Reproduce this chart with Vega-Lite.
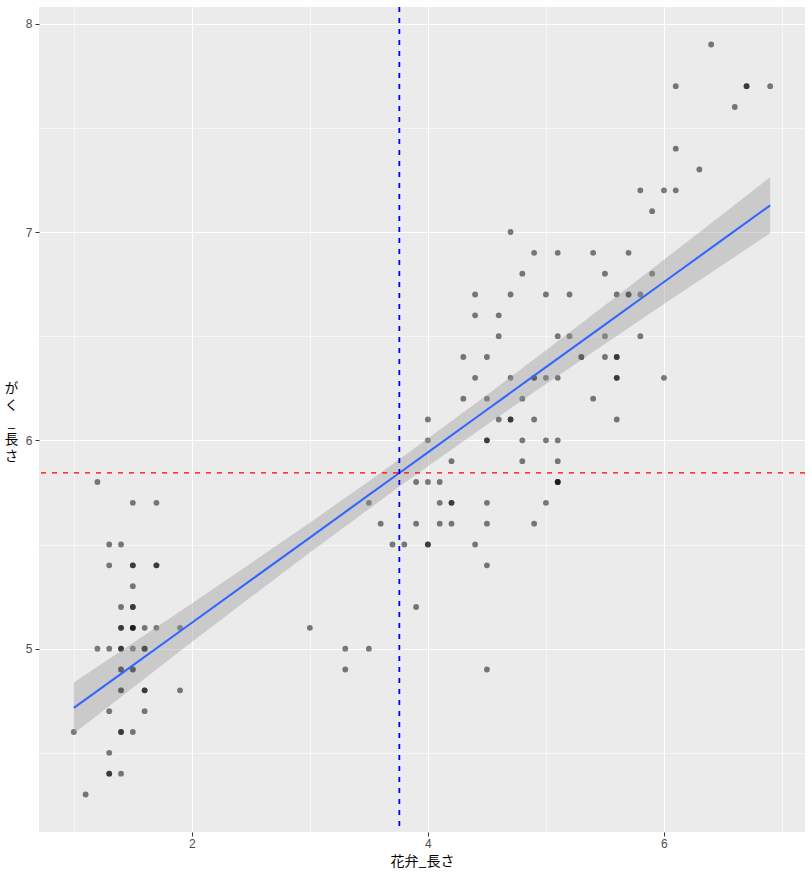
{
  "$schema": "https://vega.github.io/schema/vega-lite/v6.json",
  "width": 766,
  "height": 825,
  "autosize": {"type": "none"},
  "padding": {"left": 39, "top": 7, "right": 7, "bottom": 44},
  "background": "white",
  "config": {
    "view": {"fill": "#EBEBEB", "stroke": null},
    "axis": {
      "domain": false,
      "gridColor": "white",
      "tickColor": "#333333",
      "tickSize": 4,
      "labelColor": "#4D4D4D",
      "labelFont": "Liberation Sans",
      "labelFontSize": 12,
      "titleFont": "Noto Sans CJK JP",
      "titleFontSize": 14,
      "titleFontWeight": "normal",
      "titleColor": "black"
    }
  },
  "datasets": {
    "iris": [
      {"p":1.4,"s":5.1},{"p":1.4,"s":4.9},{"p":1.3,"s":4.7},{"p":1.5,"s":4.6},{"p":1.4,"s":5.0},
      {"p":1.7,"s":5.4},{"p":1.4,"s":4.6},{"p":1.5,"s":5.0},{"p":1.4,"s":4.4},{"p":1.5,"s":4.9},
      {"p":1.5,"s":5.4},{"p":1.6,"s":4.8},{"p":1.4,"s":4.8},{"p":1.1,"s":4.3},{"p":1.2,"s":5.8},
      {"p":1.5,"s":5.7},{"p":1.3,"s":5.4},{"p":1.4,"s":5.1},{"p":1.7,"s":5.7},{"p":1.5,"s":5.1},
      {"p":1.7,"s":5.4},{"p":1.5,"s":5.1},{"p":1.0,"s":4.6},{"p":1.7,"s":5.1},{"p":1.9,"s":4.8},
      {"p":1.6,"s":5.0},{"p":1.6,"s":5.0},{"p":1.5,"s":5.2},{"p":1.4,"s":5.2},{"p":1.6,"s":4.7},
      {"p":1.6,"s":4.8},{"p":1.5,"s":5.4},{"p":1.5,"s":5.2},{"p":1.4,"s":5.5},{"p":1.5,"s":4.9},
      {"p":1.2,"s":5.0},{"p":1.3,"s":5.5},{"p":1.4,"s":4.9},{"p":1.3,"s":4.4},{"p":1.5,"s":5.1},
      {"p":1.3,"s":5.0},{"p":1.3,"s":4.5},{"p":1.3,"s":4.4},{"p":1.6,"s":5.0},{"p":1.9,"s":5.1},
      {"p":1.4,"s":4.8},{"p":1.6,"s":5.1},{"p":1.4,"s":4.6},{"p":1.5,"s":5.3},{"p":1.4,"s":5.0},
      {"p":4.7,"s":7.0},{"p":4.5,"s":6.4},{"p":4.9,"s":6.9},{"p":4.0,"s":5.5},{"p":4.6,"s":6.5},
      {"p":4.5,"s":5.7},{"p":4.7,"s":6.3},{"p":3.3,"s":4.9},{"p":4.6,"s":6.6},{"p":3.9,"s":5.2},
      {"p":3.5,"s":5.0},{"p":4.2,"s":5.9},{"p":4.0,"s":6.0},{"p":4.7,"s":6.1},{"p":3.6,"s":5.6},
      {"p":4.4,"s":6.7},{"p":4.5,"s":5.6},{"p":4.1,"s":5.8},{"p":4.5,"s":6.2},{"p":3.9,"s":5.6},
      {"p":4.8,"s":5.9},{"p":4.0,"s":6.1},{"p":4.9,"s":6.3},{"p":4.7,"s":6.1},{"p":4.3,"s":6.4},
      {"p":4.4,"s":6.6},{"p":4.8,"s":6.8},{"p":5.0,"s":6.7},{"p":4.5,"s":6.0},{"p":3.5,"s":5.7},
      {"p":3.8,"s":5.5},{"p":3.7,"s":5.5},{"p":3.9,"s":5.8},{"p":5.1,"s":6.0},{"p":4.5,"s":5.4},
      {"p":4.5,"s":6.0},{"p":4.7,"s":6.7},{"p":4.4,"s":6.3},{"p":4.1,"s":5.6},{"p":4.0,"s":5.5},
      {"p":4.4,"s":5.5},{"p":4.6,"s":6.1},{"p":4.0,"s":5.8},{"p":3.3,"s":5.0},{"p":4.2,"s":5.6},
      {"p":4.2,"s":5.7},{"p":4.2,"s":5.7},{"p":4.3,"s":6.2},{"p":3.0,"s":5.1},{"p":4.1,"s":5.7},
      {"p":6.0,"s":6.3},{"p":5.1,"s":5.8},{"p":5.9,"s":7.1},{"p":5.6,"s":6.3},{"p":5.8,"s":6.5},
      {"p":6.6,"s":7.6},{"p":4.5,"s":4.9},{"p":6.3,"s":7.3},{"p":5.8,"s":6.7},{"p":6.1,"s":7.2},
      {"p":5.1,"s":6.5},{"p":5.3,"s":6.4},{"p":5.5,"s":6.8},{"p":5.0,"s":5.7},{"p":5.1,"s":5.8},
      {"p":5.3,"s":6.4},{"p":5.5,"s":6.5},{"p":6.7,"s":7.7},{"p":6.9,"s":7.7},{"p":5.0,"s":6.0},
      {"p":5.7,"s":6.9},{"p":4.9,"s":5.6},{"p":6.7,"s":7.7},{"p":4.9,"s":6.3},{"p":5.7,"s":6.7},
      {"p":6.0,"s":7.2},{"p":4.8,"s":6.2},{"p":4.9,"s":6.1},{"p":5.6,"s":6.4},{"p":5.8,"s":7.2},
      {"p":6.1,"s":7.4},{"p":6.4,"s":7.9},{"p":5.6,"s":6.4},{"p":5.1,"s":6.3},{"p":5.6,"s":6.1},
      {"p":6.1,"s":7.7},{"p":5.6,"s":6.3},{"p":5.5,"s":6.4},{"p":4.8,"s":6.0},{"p":5.4,"s":6.9},
      {"p":5.6,"s":6.7},{"p":5.1,"s":6.9},{"p":5.1,"s":5.8},{"p":5.9,"s":6.8},{"p":5.7,"s":6.7},
      {"p":5.2,"s":6.7},{"p":5.0,"s":6.3},{"p":5.2,"s":6.5},{"p":5.4,"s":6.2},{"p":5.1,"s":5.9}
    ],
    "fit": [
      {"x":1.0,"fit":4.7155,"lo":4.593,"hi":4.838},
      {"x":1.5,"fit":4.9200,"lo":4.813,"hi":5.027},
      {"x":2.0,"fit":5.1244,"lo":5.032,"hi":5.217},
      {"x":2.5,"fit":5.3289,"lo":5.248,"hi":5.410},
      {"x":3.0,"fit":5.5334,"lo":5.462,"hi":5.605},
      {"x":3.5,"fit":5.7378,"lo":5.671,"hi":5.804},
      {"x":3.758,"fit":5.8433,"lo":5.778,"hi":5.909},
      {"x":4.0,"fit":5.9423,"lo":5.876,"hi":6.009},
      {"x":4.5,"fit":6.1467,"lo":6.075,"hi":6.218},
      {"x":5.0,"fit":6.3512,"lo":6.271,"hi":6.432},
      {"x":5.5,"fit":6.5557,"lo":6.463,"hi":6.648},
      {"x":6.0,"fit":6.7601,"lo":6.654,"hi":6.867},
      {"x":6.5,"fit":6.9646,"lo":6.843,"hi":7.086},
      {"x":6.9,"fit":7.1281,"lo":6.994,"hi":7.263}
    ]
  },
  "layer": [
    {
      "data": {"name": "iris"},
      "mark": {"type": "circle", "color": "black", "opacity": 0.5, "size": 34},
      "encoding": {
        "x": {
          "field": "p", "type": "quantitative",
          "scale": {"domain": [0.705, 7.195], "nice": false, "zero": false},
          "axis": {
            "title": "花弁_長さ",
            "values": [1, 2, 3, 4, 5, 6, 7],
            "format": "d",
            "grid": true,
            "gridWidth": {"condition": {"test": "datum.value % 2 === 0", "value": 1.1}, "value": 0.55},
            "tickOpacity": {"condition": {"test": "datum.value % 2 === 0", "value": 1}, "value": 0},
            "labelExpr": "datum.value % 2 === 0 ? datum.label : ''",
            "labelPadding": 2,
            "titlePadding": 5
          }
        },
        "y": {
          "field": "s", "type": "quantitative",
          "scale": {"domain": [4.12, 8.08], "nice": false, "zero": false},
          "axis": {
            "title": ["が", "く", "_", "長", "さ"],
            "values": [4.5, 5, 5.5, 6, 6.5, 7, 7.5, 8],
            "format": "~g",
            "grid": true,
            "gridWidth": {"condition": {"test": "datum.value % 1 === 0", "value": 1.1}, "value": 0.55},
            "tickOpacity": {"condition": {"test": "datum.value % 1 === 0", "value": 1}, "value": 0},
            "labelExpr": "datum.value % 1 === 0 ? datum.label : ''",
            "labelPadding": 3,
            "titleAngle": 0,
            "titleAlign": "center",
            "titleBaseline": "top",
            "titleFontSize": 13.5,
            "titleLineHeight": 17,
            "titleX": -28,
            "titleY": 374
          }
        }
      }
    },
    {
      "data": {"name": "fit"},
      "mark": {"type": "area", "color": "#999999", "opacity": 0.4},
      "encoding": {
        "x": {"field": "x", "type": "quantitative"},
        "y": {"field": "lo", "type": "quantitative"},
        "y2": {"field": "hi"}
      }
    },
    {
      "data": {"name": "fit"},
      "mark": {"type": "line", "color": "#3366FF", "strokeWidth": 2.1},
      "encoding": {
        "x": {"field": "x", "type": "quantitative"},
        "y": {"field": "fit", "type": "quantitative"}
      }
    },
    {
      "data": {"name": "iris"},
      "mark": {"type": "rule", "color": "#0000FF", "strokeWidth": 1.8, "strokeDash": [5, 6]},
      "encoding": {
        "x": {"aggregate": "mean", "field": "p", "type": "quantitative"}
      }
    },
    {
      "data": {"name": "iris"},
      "mark": {"type": "rule", "color": "#FF0000", "strokeWidth": 1.2, "strokeDash": [5, 6]},
      "encoding": {
        "y": {"aggregate": "mean", "field": "s", "type": "quantitative"}
      }
    }
  ]
}
